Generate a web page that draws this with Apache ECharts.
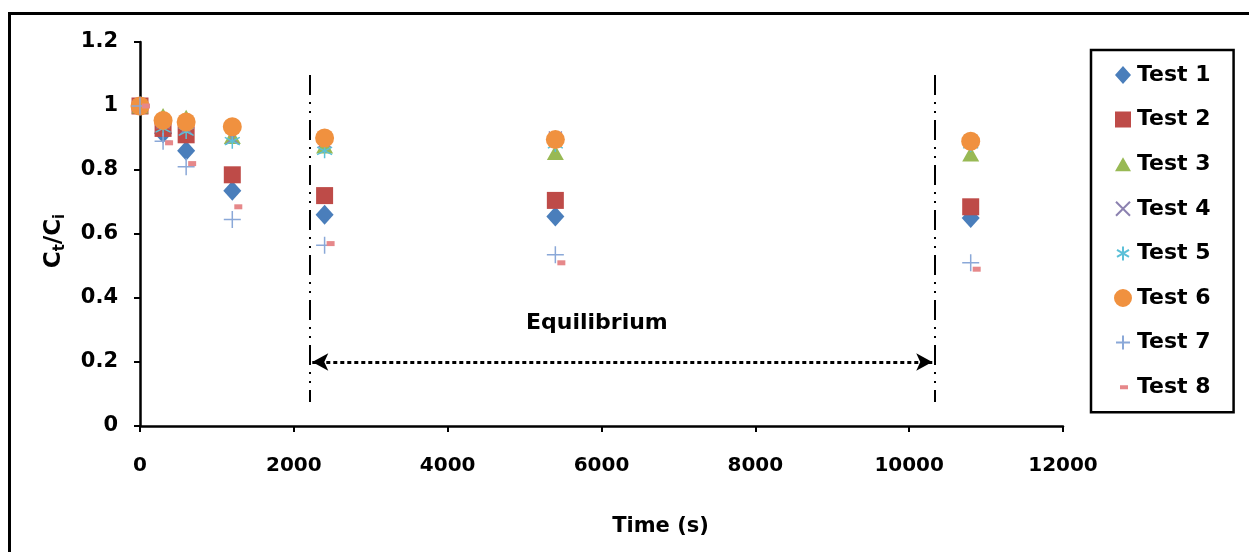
<!DOCTYPE html>
<html>
<head>
<meta charset="utf-8">
<script src="https://cdn.jsdelivr.net/npm/echarts@6/dist/echarts.min.js"></script>
<style>
html,body{margin:0;padding:0;background:#fff;}
#chart{width:1249px;height:552px;}
</style>
</head>
<body>
<div id="chart"></div>
<script>
// ---- data ----
const times = [0, 300, 600, 1200, 2400, 5400, 10800];
const test1 = [1, 0.915, 0.86, 0.735, 0.66, 0.655, 0.65];
const test2 = [1, 0.93, 0.91, 0.785, 0.72, 0.705, 0.685];
const test3 = [1, 0.97, 0.965, 0.905, 0.875, 0.855, 0.85];
const test4 = [1, 0.95, 0.93, 0.9, 0.89, 0.9, 0.89];
const test5 = [1, 0.93, 0.92, 0.89, 0.86, 0.88, 0.88];
const test6 = [1, 0.955, 0.95, 0.935, 0.9, 0.895, 0.89];
const test7 = [1, 0.89, 0.81, 0.645, 0.565, 0.535, 0.51];
const test8 = [1, 0.885, 0.82, 0.685, 0.57, 0.51, 0.49];
const seriesNames = ['Test 1','Test 2','Test 3','Test 4','Test 5','Test 6','Test 7','Test 8'];
const xTicks = [0, 2000, 4000, 6000, 8000, 10000, 12000];
const yTicks = [0, 0.2, 0.4, 0.6, 0.8, 1, 1.2];
const eqStart = 2210, eqEnd = 10330;   // equilibrium markers (s)
const eqLineTop = 1.097, eqLineBottom = 0.075, eqArrowY = 0.2;
const eqLabelPos = [5940, 0.32];

const pairs = arr => times.map((t, i) => [t, arr[i]]);
const font = '"DejaVu Sans", "Liberation Sans", Arial, sans-serif';

// corner padding so legend icons keep a smaller drawn size inside an 18x18 box
const pad = 'M0,0L0.01,0M18,18L17.99,18';
const styles = [
  {symbol:'diamond', size:[18,20], item:{color:'#4a7ebb'}, icon:'path://' + pad + 'M9,0L17,9L9,18L1,9Z'},
  {symbol:'rect', size:17, item:{color:'#be4b48'}, icon:'path://' + pad + 'M1,1L17,1L17,17L1,17Z'},
  {symbol:'triangle', size:[17,15], item:{color:'#98b954'}, icon:'path://' + pad + 'M9,2L17,16L1,16Z'},
  {symbol:'path://M0,0L10,10M10,0L0,10', size:13, item:{color:'rgba(0,0,0,0)', borderColor:'#8c82b0', borderWidth:1.5},
   icon:'path://' + pad + 'M2,2L16,16M16,2L2,16'},
  {symbol:'path://M5,0L5,10M0.7,2.5L9.3,7.5M9.3,2.5L0.7,7.5', size:15, item:{color:'rgba(0,0,0,0)', borderColor:'#5cc0d8', borderWidth:1.5},
   icon:'path://' + pad + 'M9,2L9,16M3,5.5L15,12.5M15,5.5L3,12.5'},
  {symbol:'circle', size:19, item:{color:'#f0913f'}, icon:'path://' + pad + 'M9,0A9,9,0,1,1,8.99,0Z'},
  {symbol:'path://M5,0L5,10M0,5L10,5', size:17, item:{color:'rgba(0,0,0,0)', borderColor:'#8aa8d8', borderWidth:1.5},
   icon:'path://' + pad + 'M9,2L9,16M2,9L16,9'},
  {symbol:'rect', size:[8,5], item:{color:'#e6888a'}, offset:[6,0], icon:'path://' + pad + 'M6,7L14,7L14,11L6,11Z'}
];
const dataSets = [test1,test2,test3,test4,test5,test6,test7,test8];

const series = dataSets.map((d, i) => ({
  name: seriesNames[i],
  type: 'scatter',
  data: pairs(d),
  symbol: styles[i].symbol,
  symbolSize: styles[i].size,
  symbolOffset: styles[i].offset || [0,0],
  itemStyle: Object.assign({opacity: 1}, styles[i].item),
  emphasis: {disabled: true},
  z: 2
}));

series.push({
  name: 'annot',
  type: 'line',
  data: [],
  silent: true,
  z: 3,
  markLine: {
    silent: true,
    animation: false,
    label: {show: false},
    data: [
      [{coord:[eqStart, eqLineTop], symbol:'none', lineStyle:{color:'#000', width:2, type:[20,7,2,7,2,7]}},
       {coord:[eqStart, eqLineBottom], symbol:'none'}],
      [{coord:[eqEnd, eqLineTop], symbol:'none', lineStyle:{color:'#000', width:2, type:[20,7,2,7,2,7]}},
       {coord:[eqEnd, eqLineBottom], symbol:'none'}],
      [{coord:[eqStart + 30, eqArrowY], symbol:'arrow', symbolSize:[13,16], lineStyle:{color:'#000', width:3, type:[4,3]}},
       {coord:[eqEnd - 30, eqArrowY], symbol:'arrow', symbolSize:[13,16]}]
    ]
  },
  markPoint: {
    silent: true,
    animation: false,
    symbol: 'circle',
    symbolSize: 0,
    data: [{coord: eqLabelPos, value: 'Equilibrium'}],
    label: {show: true, position: 'inside', formatter: 'Equilibrium', color: '#000',
            fontFamily: font, fontWeight: 'bold', fontSize: 22}
  }
});

const chart = echarts.init(document.getElementById('chart'), null, {renderer: 'canvas'});
chart.setOption({
  animation: false,
  backgroundColor: '#fff',
  grid: {left: 140, right: 186, top: 42, bottom: 126, containLabel: false},
  xAxis: {
    type: 'value', min: xTicks[0], max: xTicks[xTicks.length-1], interval: 2000,
    splitLine: {show: false},
    axisLine: {show: true, onZero: false, lineStyle: {color: '#000', width: 2.5}},
    axisTick: {show: true, length: 6, lineStyle: {color: '#000', width: 2}},
    axisLabel: {color: '#000', fontFamily: font, fontWeight: 'bold', fontSize: 20, margin: 30,
                formatter: v => String(v)},
    name: 'Time (s)', nameLocation: 'middle', nameGap: 90,
    nameTextStyle: {color: '#000', fontFamily: font, fontWeight: 'bold', fontSize: 21, padding: [0,0,0,118]}
  },
  yAxis: {
    type: 'value', min: yTicks[0], max: yTicks[yTicks.length-1], interval: 0.2,
    splitLine: {show: false},
    axisLine: {show: true, onZero: false, lineStyle: {color: '#000', width: 2.5}},
    axisTick: {show: true, length: 6, lineStyle: {color: '#000', width: 2}},
    axisLabel: {color: '#000', fontFamily: font, fontWeight: 'bold', fontSize: 21, margin: 22,
                formatter: v => (v === 0 ? '0' : String(+v.toFixed(1)))},
    name: '{a|C}{s|t}{a|/C}{s|i}', nameLocation: 'middle', nameGap: 72, nameRotate: 90,
    nameTextStyle: {
      padding: [0,14,0,0],
      rich: {
        a: {color:'#000', fontFamily: font, fontWeight:'bold', fontSize: 23, verticalAlign:'middle'},
        s: {color:'#000', fontFamily: font, fontWeight:'bold', fontSize: 15, verticalAlign:'bottom', padding:[12,0,0,0]}
      }
    }
  },
  legend: {
    data: seriesNames.map((n, i) => ({name: n, icon: styles[i].icon})),
    orient: 'vertical',
    left: 1091, top: 50,
    itemWidth: 18, itemHeight: 18, itemGap: 22.6,
    padding: [14, 23, 14, 22],
    borderColor: '#000', borderWidth: 2.5,
    textStyle: {color: '#000', fontFamily: font, fontWeight: 'bold', fontSize: 22},
    selectedMode: false
  },
  graphic: [
    {type:'line', shape:{x1:9, y1:13.5, x2:1249, y2:13.5}, style:{stroke:'#000', lineWidth:3}, silent:true},
    {type:'line', shape:{x1:9.5, y1:12, x2:9.5, y2:552}, style:{stroke:'#000', lineWidth:3}, silent:true}
  ],
  series: series
});
</script>
</body>
</html>
